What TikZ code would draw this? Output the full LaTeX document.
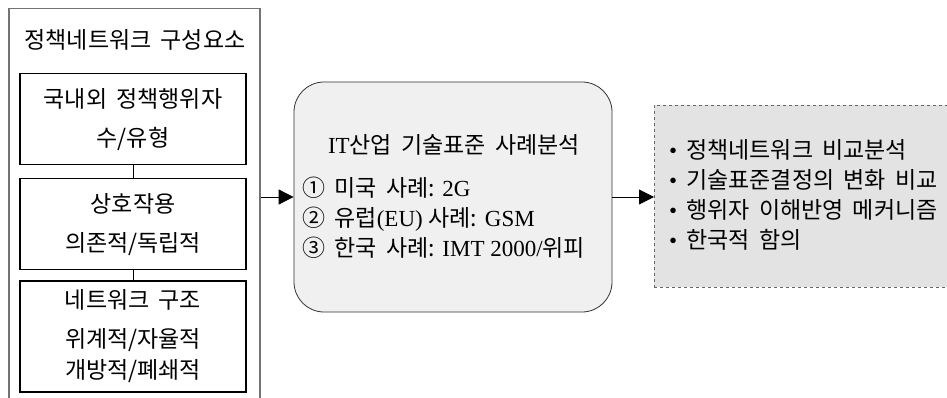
\documentclass[tikz,border=0pt]{standalone}
\usepackage{fontspec}
\setmainfont{Liberation Serif}
\newfontfamily\hangul[WordSpace=1.8]{Noto Sans CJK KR}
\usepackage{xcolor}
\colorlet{FRAMECOLOR}{black!55}
\colorlet{CASECOLOR}{black!6}
\colorlet{RESULTCOLOR}{black!11}
\usepackage{tikz}
\usetikzlibrary{arrows.meta,positioning}
\tikzset{
  text-style/.style = {
    inner sep=0pt, align=#1,
    font=\fontsize{23}{31}\selectfont
  },
  text-style/.default = center,
  list-style/.style = {
    text-style=left, anchor=west,
    font=\fontsize{23}{30}\selectfont
  },
  frame-style/.style = {
    rectangle, draw=FRAMECOLOR, line width=1.5pt,
    minimum width=251pt, minimum height=430pt,
    anchor=north west
  },
  part-style/.style = {
    rectangle, draw, line width=1.2pt, text-style,
    minimum width=226pt, minimum height=#1
  },
  case-style/.style = {
    rectangle, rounded corners=30pt, draw=black!80, thick,
    fill=CASECOLOR,
    minimum width=318pt, minimum height=230pt
  },
  result-style/.style = {
    rectangle, draw=black!60, thick, dashed,
    fill=RESULTCOLOR,
    minimum width=320pt, minimum height=182pt,
    anchor=north west
  },
  every edge/.style = {draw, -{Triangle[length=15pt,width=15pt]}, thick}
}
\newcommand\kr[1]{{\hangul #1}}
\newcommand\bulletItem[1]{•\hspace{9pt}\kr{#1}}

\begin{document}
\begin{tikzpicture}[x=1pt,y=-1pt]
  \useasboundingbox (0,0) rectangle (947,398);

  % components
  \node[frame-style] (frame) at (8,8) {};
  \node[text-style] (frame-title) at (135,40) {\kr{정책네트워크 구성요소}};
  \node[part-style=91pt, anchor=north] (actors) at (133,73)
    {\kr{국내외 정책행위자}\\[8pt]\kr{수/유형}};
  \node[part-style=91pt, below=13pt of actors] (interaction)
    {\kr{상호작용}\\[8pt]\kr{의존적/독립적}};
  \node[part-style=111pt, below=10pt of interaction] (structure)
    {\kr{네트워크 구조}\\[8pt]\kr{위계적/자율적}\\\kr{개방적/폐쇄적}};
  \draw[thick] (actors) -- (interaction);
  \draw[thick] (interaction) -- (structure);

  % cases
  \node[case-style] (case) at (453,197) {};
  \node[text-style] (case-title) at (454,145) {IT\kr{산업 기술표준 사례분석}};
  \node[list-style] (case-list) at (302,218)
    {\kr{① 미국 사례:} 2G\\
     \kr{② 유럽}(EU) \kr{사례:} GSM\\
     \kr{③ 한국 사례:} IMT 2000/\kr{위피}};

  % results
  \node[result-style] (result) at (654,105) {};
  \node[list-style] (result-list) at (669,195)
    {\bulletItem{정책네트워크 비교분석}\\
     \bulletItem{기술표준결정의 변화 비교}\\
     \bulletItem{행위자 이해반영 메커니즘}\\
     \bulletItem{한국적 함의}};

  \path (frame.east |- case.west) edge (case.west)
        (case.east) edge (result.west |- case.east);
\end{tikzpicture}
\end{document}
